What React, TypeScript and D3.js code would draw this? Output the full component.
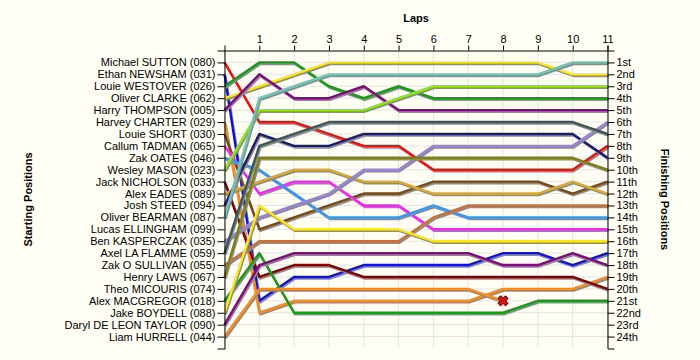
import React, { useEffect, useRef } from "react";
import * as d3 from "d3";

const startNames = [
  "Michael SUTTON (080)", "Ethan NEWSHAM (031)", "Louie WESTOVER (026)", "Oliver CLARKE (062)",
  "Harry THOMPSON (005)", "Harvey CHARTER (029)", "Louie SHORT (030)", "Callum TADMAN (065)",
  "Zak OATES (046)", "Wesley MASON (023)", "Jack NICHOLSON (033)", "Alex EADES (089)",
  "Josh STEED (094)", "Oliver BEARMAN (087)", "Lucas ELLINGHAM (099)", "Ben KASPERCZAK (035)",
  "Axel LA FLAMME (059)", "Zak O SULLIVAN (055)", "Henry LAWS (067)", "Theo MICOURIS (074)",
  "Alex MACGREGOR (018)", "Jake BOYDELL (088)", "Daryl DE LEON TAYLOR (090)", "Liam HURRELL (044)",
];

const finishLabels = [
  "1st", "2nd", "3rd", "4th", "5th", "6th", "7th", "8th", "9th", "10th", "11th", "12th",
  "13th", "14th", "15th", "16th", "17th", "18th", "19th", "20th", "21st", "22nd", "23rd", "24th",
];

const laps = [0, 1, 2, 3, 4, 5, 6, 7, 8, 9, 10, 11];

// position at each lap (lap 0 = grid), by starting position; null = no laps
const lapPositions: (number[] | null)[] = [
  [1, 6, 6, 7, 8, 8, 10, 10, 10, 10, 10, 8],
  [2, 21, 19, 19, 18, 18, 18, 18, 17, 17, 18, 17],
  [3, 1, 1, 3, 4, 3, 4, 4, 4, 4, 4, 4],
  [4, 3, 2, 1, 1, 1, 1, 1, 1, 1, 2, 2],
  [5, 2, 4, 4, 3, 5, 5, 5, 5, 5, 5, 5],
  [6, 22, 21, 21, 21, 21, 21, 21, 20, 20, 20, 19],
  [7, 15, 14, 13, 12, 12, 11, 11, 11, 11, 12, 11],
  [8, 12, 11, 11, 13, 13, 15, 15, 15, 15, 15, 15],
  [9, 10, 12, 14, 14, 14, 13, 14, 14, 14, 14, 14],
  [10, 5, 5, 5, 5, 4, 3, 3, 3, 3, 3, 3],
  [11, 19, 18, 18, 19, 19, 19, 19, 19, 19, 19, 20],
  [12, 11, 10, 10, 11, 11, 12, 12, 12, 12, 11, 12],
  [13, 7, 8, 8, 7, 7, 7, 7, 7, 7, 7, 9],
  [14, 4, 3, 2, 2, 2, 2, 2, 2, 2, 1, 1],
  null,
  [16, 14, 13, 12, 10, 10, 8, 8, 8, 8, 8, 6],
  [17, 8, 7, 6, 6, 6, 6, 6, 6, 6, 6, 7],
  [18, 16, 16, 16, 16, 16, 14, 13, 13, 13, 13, 13],
  [19, 9, 9, 9, 9, 9, 9, 9, 9, 9, 9, 10],
  null,
  [21, 17, 22, 22, 22, 22, 22, 22, 22, 21, 21, 21],
  [22, 13, 15, 15, 15, 15, 16, 16, 16, 16, 16, 16],
  [23, 18, 17, 17, 17, 17, 17, 17, 18, 18, 17, 18],
  [24, 20, 20, 20, 20, 20, 20, 20, 21],
];

// retirements: [starting position, lap]
const retired = [[24, 8]];

const colors = [
  "#ee1111", "#1111dd", "#159b15", "#ffe81a", "#800a80", "#ff8a1c", "#7a4a14", "#ff22ff",
  "#3399ff", "#8ee614", "#800000", "#dcaa2c", "#1c1c6e", "#6cc8b4", "#9a82dc", "#9a82dc",
  "#3c5656", "#cc7038", "#808010", "#808010", "#159b15", "#ffe81a", "#800a80", "#ff8a1c",
];

const App: React.FC = () => {
  const svgRef = useRef<SVGSVGElement | null>(null);

  useEffect(() => {
    const width = 700;
    const height = 360;
    const font = "'Liberation Sans', Arial, sans-serif";

    const svg = d3.select(svgRef.current);
    svg.selectAll("*").remove();
    svg.attr("width", width).attr("height", height);

    svg.append("rect").attr("width", width).attr("height", height).attr("fill", "#fffef4");

    const x = d3.scaleLinear().domain([0, 11]).range([224.5, 607.5]);
    const y = d3.scaleLinear().domain([0, 25]).range([50.5, 348.5]);

    // Grid
    const grid = svg.append("g").attr("stroke", "#e4e4e4").attr("stroke-width", 1);
    laps.forEach(l => {
      grid.append("line").attr("x1", x(l)).attr("x2", x(l)).attr("y1", y(0)).attr("y2", y(25));
    });
    d3.range(1, 25).forEach(p => {
      grid.append("line").attr("x1", x(0)).attr("x2", x(11)).attr("y1", y(p)).attr("y2", y(p));
    });

    const line = d3
      .line<number>()
      .x((_, i) => x(laps[i]))
      .y(d => y(d));

    // Lines with shadow
    const lines = svg.append("g").attr("fill", "none").attr("stroke-linejoin", "round");
    lapPositions.forEach((pos, i) => {
      if (!pos) return;
      lines
        .append("path")
        .attr("d", line(pos))
        .attr("stroke", "#8c8c8c")
        .attr("stroke-width", 2.4)
        .attr("transform", "translate(1,1.6)");
      lines
        .append("path")
        .attr("d", line(pos))
        .attr("stroke", colors[i])
        .attr("stroke-width", 2.4);
    });

    // Retired marker
    retired.forEach(([start, lap]) => {
      const pos = lapPositions[start - 1]!;
      svg
        .append("path")
        .attr("d", d3.symbol(d3.symbolCross, 60)()!)
        .attr("transform", `translate(${x(lap)},${y(pos[lap])}) rotate(45)`)
        .attr("fill", "#ee1111")
        .attr("stroke", "#6a0000")
        .attr("stroke-width", 1);
    });

    const styleAxis = (g: any) => {
      g.selectAll("text").attr("font-family", font).attr("font-size", 11).attr("fill", "#000");
      g.selectAll("line").attr("stroke", "#000");
      g.select(".domain").attr("stroke", "#000");
    };

    // Top axis (laps)
    svg
      .append("g")
      .attr("transform", `translate(0,${y(0)})`)
      .call(d3.axisTop(x).tickValues(laps.slice(1)).tickSize(5).tickSizeOuter(5).tickPadding(3))
      .call(styleAxis);

    // Left axis (starting positions)
    svg
      .append("g")
      .attr("transform", `translate(${x(0)},0)`)
      .call(
        d3
          .axisLeft(y)
          .tickValues(d3.range(1, 25))
          .tickFormat(d => startNames[+d - 1])
          .tickSize(7)
          .tickSizeOuter(7)
          .tickPadding(2)
      )
      .call(styleAxis);

    // Right axis (finishing positions)
    svg
      .append("g")
      .attr("transform", `translate(${x(11)},0)`)
      .call(
        d3
          .axisRight(y)
          .tickValues(d3.range(1, 25))
          .tickFormat(d => finishLabels[+d - 1])
          .tickSize(7)
          .tickSizeOuter(7)
          .tickPadding(2)
      )
      .call(styleAxis);

    // Titles
    const title = (sel: any) =>
      sel
        .attr("text-anchor", "middle")
        .attr("font-family", font)
        .attr("font-weight", "bold")
        .attr("font-size", 11);

    svg
      .append("text")
      .attr("x", (x(0) + x(11)) / 2)
      .attr("y", 22)
      .call(title)
      .text("Laps");

    svg
      .append("text")
      .attr("transform", `translate(32,${(y(0) + y(25)) / 2}) rotate(-90)`)
      .call(title)
      .text("Starting Positions");

    svg
      .append("text")
      .attr("transform", `translate(661,${(y(0) + y(25)) / 2}) rotate(90)`)
      .call(title)
      .text("Finishing Positions");
  }, []);

  return <svg ref={svgRef} style={{ position: "absolute", left: 0, top: 0 }}></svg>;
};

export default App;
